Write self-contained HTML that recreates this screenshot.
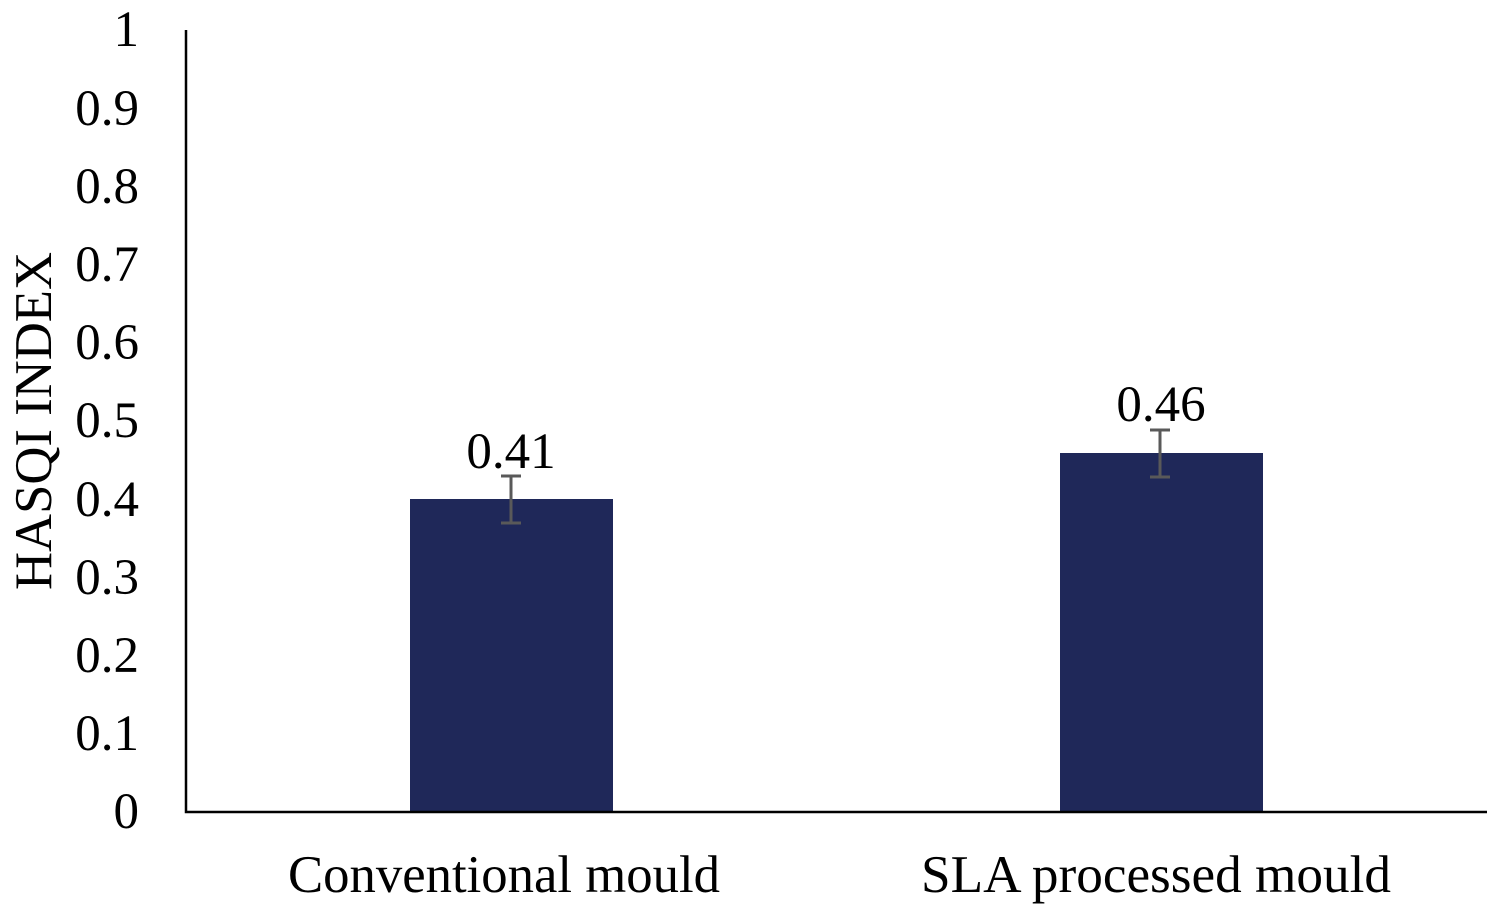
<!DOCTYPE html>
<html><head><style>body{margin:0;background:#fff}</style></head><body>
<svg width="1500" height="909" xmlns="http://www.w3.org/2000/svg" font-family="Liberation Serif, serif" fill="#000">
<rect width="1500" height="909" fill="#fff"/>
<rect x="410" y="499" width="203" height="312" fill="#1f2859"/>
<rect x="1060" y="453" width="203" height="358" fill="#1f2859"/>
<g stroke="#595959" stroke-width="3">
<line x1="511" y1="476" x2="511" y2="523"/><line x1="501" y1="476" x2="521" y2="476"/><line x1="501" y1="523" x2="521" y2="523"/>
<line x1="1160" y1="430" x2="1160" y2="477"/><line x1="1150" y1="430" x2="1170" y2="430"/><line x1="1150" y1="477" x2="1170" y2="477"/>
</g>
<g stroke="#000" stroke-width="2.5" fill="none">
<polyline points="186,30 186,812 1487,812"/>
</g>
<g font-size="51" text-anchor="end">
<text x="139" y="828">0</text>
<text x="139" y="750">0.1</text>
<text x="139" y="672">0.2</text>
<text x="139" y="594">0.3</text>
<text x="139" y="516">0.4</text>
<text x="139" y="437">0.5</text>
<text x="139" y="359">0.6</text>
<text x="139" y="281">0.7</text>
<text x="139" y="203">0.8</text>
<text x="139" y="125">0.9</text>
<text x="139" y="46">1</text>
</g>
<g font-size="51" text-anchor="middle">
<text x="511" y="468">0.41</text>
<text x="1161" y="421">0.46</text>
</g>
<g font-size="53" text-anchor="middle">
<text x="504" y="892" textLength="432" lengthAdjust="spacingAndGlyphs">Conventional mould</text>
<text x="1156" y="892" textLength="470" lengthAdjust="spacingAndGlyphs">SLA processed mould</text>
<text transform="translate(51,421) rotate(-90)" textLength="338" lengthAdjust="spacingAndGlyphs">HASQI INDEX</text>
</g>
</svg>
</body></html>
